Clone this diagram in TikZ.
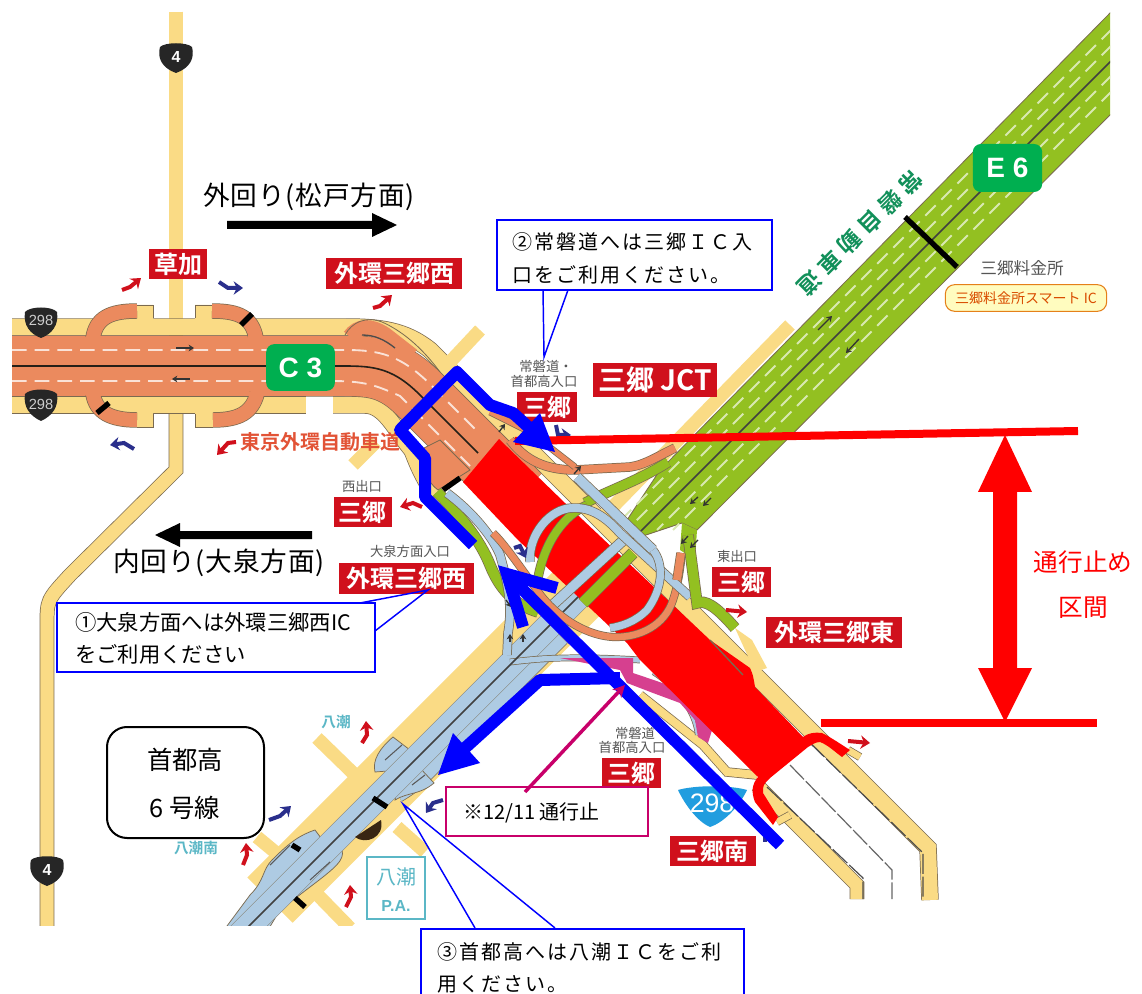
\documentclass[tikz,border=0pt]{standalone}
\usepackage{fontspec}
\usetikzlibrary{arrows.meta}
\newfontfamily\jp{Noto Sans CJK JP}
\newfontfamily\jpb{Noto Sans CJK JP Bold}
\newfontfamily\lib{Liberation Sans}
\definecolor{cOr}{HTML}{EB8A5E}
\definecolor{cYe}{HTML}{FADB85}
\definecolor{cLb}{HTML}{AECBE3}
\definecolor{cGr}{HTML}{93C021}
\definecolor{cEd}{HTML}{7A6A50}
\definecolor{cBadge}{HTML}{00AF50}
\definecolor{cLab}{HTML}{D0101C}
\definecolor{cMag}{HTML}{C8006A}
\definecolor{cCy}{HTML}{5BB7C6}
\definecolor{cNavy}{HTML}{2A2F8C}
\definecolor{cRed}{HTML}{FF0000}
\definecolor{cBl}{HTML}{0000FF}
\definecolor{cGy}{HTML}{555555}
\definecolor{cTeal}{HTML}{12905A}
\newcommand{\fsz}[1]{\fontsize{#1}{#1}\selectfont}
\tikzset{
 rd/.style n args={2}{draw=cEd,line width=.55pt,double=#1,double distance=#2,line cap=butt},
 redlab/.style={fill=cLab,text=white,inner sep=0pt,font=\jpb\fsz{18},anchor=north west},
 smalltx/.style={text=cGy,inner sep=0pt,font=\jp\fsz{10}},
 note/.style={inner sep=0pt,anchor=west,font=\jp\fsz{15}},
 badge/.style={fill=cBadge,rounded corners=6pt,text=white,inner sep=0pt,font=\lib\bfseries\fsz{21}},
 blueline/.style={draw=cBl,line width=9pt,line join=round},
 sarrR/.style={draw=cLab,line width=3pt,-{Stealth[length=7pt,width=10pt]}},
 sarrN/.style={draw=cNavy,line width=3pt,-{Stealth[length=7pt,width=10pt]}},
 tiny/.style={draw=black!80,line width=1pt,-{Stealth[length=4pt,width=5pt]}},
 dashW/.style={draw=#1,line width=1.4pt,dash pattern=on 11pt off 6pt},
 shield/.style={fill=#1},
 callout/.style={draw=cBl,line width=1.1pt},
}
\begin{document}
\begin{tikzpicture}[x=0.75pt,y=-0.75pt]
\useasboundingbox (0,0) rectangle (1142,994);
\fill[white] (0,0) rectangle (1142,994);
\begin{scope}
\clip (12,12) rectangle (1110,925);
% yellow base roads
\draw[rd={cYe}{10pt}] (176,12) -- (176,340);
\draw[rd={cYe}{10pt}] (176,390) -- (176,470) -- (70,575) .. controls (47,600) .. (47,625) -- (47,930);
\draw[rd={cYe}{12pt}] (12,327) -- (345,327) .. controls (380,327) and (405,330) .. (430,350) -- (810,730) -- (928,848) -- (930,900);
\draw[rd={cYe}{12pt}] (12,405) -- (306,405);
\draw[rd={cYe}{12pt}] (333,405) -- (365,405) .. controls (385,405) and (395,430) .. (412,450) .. controls (420,470) .. (435,497);
\draw[rd={cYe}{6pt}] (640,695) -- (703,745) -- (727,772) -- (757,775);
\draw[rd={cYe}{10pt}] (757,785) -- (857,885) -- (857,899);
\draw[rd={cYe}{5pt}] (848,750) -- (860,757);
\draw[rd={cYe}{5pt}] (777,822) -- (790,815);
\fill[cYe] (137,305) rectangle (153,320) (195,305) rectangle (212,320) (137,412) rectangle (153,428) (195,412) rectangle (213,428);
\draw[cEd,line width=.6pt] (137,305)--(153,305)--(153,318) (195,318)--(195,305)--(212,305) (137,427)--(153,427)--(153,414) (195,414)--(195,427)--(213,427);
\fill[cYe] (735,628) -- (752,640) -- (767,668) -- (755,672) -- cycle;
% yellow stubs and 6 line bed
\draw[cYe,line width=10pt] (480,330) -- (450,362);
\draw[cYe,line width=10pt] (376,442) -- (353,465);
\draw[cYe,line width=10pt] (790,325) -- (600,520);
\draw[cYe,line width=48pt] (600,570) -- (270,900);
\draw[cYe,line width=10pt] (317,738) -- (355,775);
\draw[cYe,line width=10pt] (257,837) -- (292,866);
\draw[cYe,line width=10pt] (397,827) -- (425,852);
\draw[cYe,line width=10pt] (310,887) -- (350,928);
% dashed roads
\draw[black!70,line width=.9pt,dash pattern=on 15pt off 2pt] (810,743) -- (923,853) -- (923,899);
\draw[black!60,line width=.9pt,dash pattern=on 15pt off 2pt] (790,765) -- (892,870) -- (892,899);
\draw[black!70,line width=.9pt,dash pattern=on 15pt off 2pt] (767,787) -- (863,878) -- (863,899);
% C3 main
\draw[cEd,line width=46pt] (12,366) -- (335,366) .. controls (370,366) and (390,365) .. (420,395) -- (520,495);
\draw[cOr,line width=45pt] (12,366) -- (335,366) .. controls (370,366) and (390,365) .. (420,395) -- (520,495);
\fill[cOr,draw=cEd,line width=.6pt] (420,450) .. controls (425,470) and (425,480) .. (438,490) -- (470,470) -- (440,440) -- cycle;
\draw[cOr,line width=12pt] (350,337) .. controls (358,326) and (370,325) .. (385,335) -- (412,356);
\draw[cEd,line width=.6pt] (345,335) .. controls (352,322) and (366,316) .. (382,322) .. controls (400,330) and (420,345) .. (440,372);
\draw[black!70,line width=1pt] (362,335) .. controls (375,335) and (385,340) .. (395,348);
\draw[dashW={white!75!cOr}] (12,350) -- (345,350) .. controls (380,350) and (400,355) .. (430,384) -- (480,434);
\draw[dashW={white!75!cOr}] (12,381) -- (330,381) .. controls (365,381) and (375,385) .. (400,396) -- (470,466);
\draw[black!70!cEd,line width=1.2pt] (12,366) -- (335,366) .. controls (370,366) and (390,365) .. (420,395) -- (478,453);
% interchange loops
\draw[rd={cOr}{10.5pt}] (93,338) .. controls (96,318) and (110,311) .. (137,311);
\draw[rd={cOr}{10.5pt}] (256,338) .. controls (252,318) and (240,311) .. (212,311);
\draw[rd={cOr}{10.5pt}] (93,394) .. controls (96,412) and (110,420) .. (137,420);
\draw[rd={cOr}{10.5pt}] (257,394) .. controls (252,412) and (240,420) .. (213,420);
\fill[cOr] (86,336) rectangle (102,340) (248,336) rectangle (266,340) (86,392) rectangle (102,396) (248,392) rectangle (268,396);
\draw[black,line width=4pt] (241,325) -- (252,314);
\draw[black,line width=4pt] (97,413) -- (109,403);
\draw[black,line width=4pt] (443,490) -- (460,478);
% E6 green
\fill[cGr,draw=cEd,line width=.6pt] (1112,11) -- (660,470) -- (627,520) -- (640,537) -- (682,523) -- (697,530) -- (1112,113) -- cycle;
\draw[rd={cGr}{7pt}] (585,503) .. controls (610,490) and (640,480) .. (668,462);
\foreach \s in {1141,1157,1187,1203}{
 \draw[dashW={white!65!cGr}] (1112,\s-1112) -- (\s-530,530);
}
\draw[black!75,line width=1.2pt] (1112,60) -- (633,539);
\draw[black,line width=4pt] (905,217) -- (957,267);
% orange upper ramps
\draw[rd={cOr}{6pt}] (510,440) .. controls (525,460) and (545,470) .. (575,470) -- (630,467) .. controls (645,465) and (660,455) .. (675,448);
\draw[rd={cOr}{4pt}] (490,412) -- (530,432) -- (575,467);
% light blue under road
\draw[rd={cLb}{7pt}] (577,477) -- (653,550);
% 6 line main band
\draw[rd={cLb}{10.5pt}] (562,638) -- (432,768) .. controls (425,775) and (415,785) .. (398,795);
\fill[cLb,draw=cEd,line width=.55pt] (434,783) .. controls (420,795) and (408,792) .. (395,800) -- (400,775) -- (420,768) -- cycle;
\fill[cLb,draw=cEd,line width=.55pt] (393,737) .. controls (380,748) and (372,760) .. (375,772) -- (400,770) -- (410,750) -- cycle;
\fill[cLb,draw=cEd,line width=.55pt] (315,830) .. controls (300,835) and (290,842) .. (272,860) .. controls (262,870) and (265,880) .. (250,895) -- (224,930) -- (260,930) -- (330,850) -- cycle;
\fill[cLb,draw=cEd,line width=.55pt] (342,850) .. controls (345,860) and (335,868) .. (310,887) -- (280,910) -- (268,930) -- (245,930) -- (320,840) -- cycle;
\draw[draw=cEd,line width=19.6pt] (587,588) -- (235,940);
\draw[cLb,line width=19pt] (587,588) -- (235,940);
\draw[rd={cLb}{4pt}] (510,662) .. controls (530,660) and (560,655) .. (640,660);
\draw[rd={cLb}{2pt}] (653,673) .. controls (680,690) and (695,715) .. (697,735);
% dark lines of 6 line
\draw[black!75,line width=1.1pt] (587,588) -- (235,940);
\draw[black!65,line width=.8pt] (385,760) -- (402,745);
\draw[black!65,line width=.8pt] (412,785) -- (425,775);
\draw[black!65,line width=.8pt] (290,845) -- (270,865);
\draw[black!65,line width=.8pt] (330,862) -- (310,880);
\draw[black,line width=4pt] (373,798) -- (387,807);
\draw[black,line width=4pt] (292,845) -- (300,850);
\draw[black,line width=4pt] (295,898) -- (305,907);
\fill[black!70!brown] (355,837) .. controls (365,845) and (385,838) .. (381,820) -- cycle;
% pink area
\fill[cMag!75!white] (560,658) -- (633,658) -- (633,673) -- (683,690) -- (713,727) -- (708,743) -- (698,737) -- (695,720) -- (680,703) -- (653,693) -- (627,683) -- (620,670) -- cycle;
% green/blue west ramps
\draw[rd={cGr}{7.5pt}] (437,492) .. controls (460,515) and (480,540) .. (490,565) .. controls (500,590) and (515,605) .. (538,612);
\draw[rd={cLb}{6pt}] (447,493) .. controls (470,510) and (492,535) .. (500,555) .. controls (510,590) and (512,610) .. (508,633) -- (507,655);
% RED closed section
\fill[cRed] (499,439) -- (565,503) -- (710,640) -- (750,668) .. controls (753,675) .. (755,687) -- (803,737) .. controls (808,733) and (815,732) .. (822,733) .. controls (832,738) and (842,745) .. (850,750) -- (842,757) .. controls (835,752) and (828,745) .. (820,742) .. controls (815,742) and (812,745) .. (808,747) -- (770,778) .. controls (763,785) .. (763,793) -- (778,817) -- (773,825) -- (755,802) .. controls (751,792) and (752,784) .. (758,777) -- (640,660) -- (627,643) -- (518,540) -- (463,482) -- cycle;
\draw[cEd,line width=1pt] (710,640) -- (743,675);
% overpass ramps over red
\draw[rd={cLb}{7pt}] (628,536) -- (545,612);
\draw[rd={cGr}{8pt}] (633,553) -- (583,603);
\draw[rd={cGr}{6pt}] (587,505) .. controls (565,515) and (545,540) .. (538,578);
\draw[rd={cOr}{5pt}] (493,533) .. controls (505,545) and (515,560) .. (537,590) .. controls (550,610) and (580,635) .. (613,637) .. controls (640,638) and (665,625) .. (673,600) .. controls (678,585) and (680,570) .. (682,553);
\draw[rd={cLb}{6pt}] (530,562) .. controls (528,535) and (550,508) .. (573,508) .. controls (595,507) and (610,522) .. (620,533) -- (690,597);
\draw[rd={cLb}{5.5pt}] (653,550) .. controls (665,565) and (662,590) .. (647,610) .. controls (635,622) and (622,626) .. (610,628);
% east green ramp
\fill[cGr] (682,523) -- (697,530) -- (695,560) -- (680,550) -- cycle;
\draw[rd={cGr}{7.5pt}] (688,535) -- (697,603) .. controls (705,600) and (715,605) .. (735,628);
\draw[rd={cOr}{6pt}] (681,553) -- (677,580);
% tiny arrows
\draw[tiny] (176,348) -- (194,348);
\draw[tiny] (190,379) -- (172,379);
\draw[tiny] (818,330) -- (832,316);
\draw[tiny] (859,339) -- (846,353);
\draw[tiny] (698,497) -- (690,504);
\draw[tiny] (711,498) -- (703,506);
\draw[tiny] (688,536) -- (681,544);
\draw[tiny] (698,540) -- (690,548);
\draw[tiny] (499,432) -- (505,424);
\draw[tiny] (574,474) -- (581,466);
\draw[tiny] (506,600) -- (511,607);
\draw[tiny] (510,642) -- (510,634);
\draw[tiny] (523,642) -- (523,634);
\end{scope}
% coloured small arrows
\draw[sarrR] (122,290) -- (130,287) -- (141,278);
\draw[sarrN] (219,282) -- (228,288) -- (243,288);
\draw[sarrR] (373,308) -- (380,306) -- (392,295);
\draw[sarrN] (134,449) -- (124,443) -- (110,445);
\draw[sarrR] (236,442) -- (228,443) -- (217,455);
\draw[sarrR] (422,507) -- (413,503) -- (400,507);
\draw[sarrR] (726,610) -- (747,612);
\draw[sarrR] (848,741) -- (870,743);
\draw[sarrN] (556,425) -- (558,435) -- (571,435);
\draw[sarrN] (514,548) -- (520,546) -- (526,558);
\draw[sarrR] (362,743) -- (367,735) -- (366,721);
\draw[sarrN] (269,820) -- (280,816) -- (291,806);
\draw[sarrR] (243,865) -- (247,855) -- (246,843);
\draw[sarrR] (346,907) -- (351,897) -- (350,885);
\draw[sarrN] (443,800) -- (433,803) -- (426,813);
\draw[cNavy,line width=3pt] (765,828) -- (765,842);
% shields
\fill[shield=black!85] (160,47) .. controls (165,42) and (187,42) .. (192,47) .. controls (195,58) and (190,68) .. (176,73) .. controls (162,68) and (157,58) .. (160,47) -- cycle;
\node[text=white,font=\lib\bfseries\fsz{12},inner sep=0pt] (s4a) at (176,57) {4};
\fill[shield=black!85] (31,860) .. controls (36,855) and (58,855) .. (63,860) .. controls (66,871) and (61,881) .. (47,886) .. controls (33,881) and (28,871) .. (31,860) -- cycle;
\node[text=white,font=\lib\bfseries\fsz{12},inner sep=0pt] (s4b) at (47,870) {4};
\fill[shield=black!85] (25,312) .. controls (30,306) and (52,306) .. (57,312) .. controls (59,325) and (52,334) .. (41,338) .. controls (30,334) and (23,325) .. (25,312) -- cycle;
\node[text=white!80!black,font=\lib\fsz{11},inner sep=0pt] (s298a) at (41,320) {298};
\fill[shield=black!85] (25,394) .. controls (30,388) and (52,388) .. (57,394) .. controls (59,407) and (52,416) .. (41,421) .. controls (30,416) and (23,407) .. (25,394) -- cycle;
\node[text=white!80!black,font=\lib\fsz{11},inner sep=0pt] (s298b) at (41,404) {298};
\fill[cyan!80!blue!90!white] (678,790) .. controls (695,785) and (730,785) .. (747,790) .. controls (740,805) and (725,822) .. (710,827) .. controls (698,822) and (685,805) .. (678,790) -- cycle;
\node[text=white,font=\lib\fsz{20},inner sep=0pt] (s298c) at (712,803) {298};
% red labels
\node[redlab,minimum width=43.5pt,minimum height=22.5pt] (lkusa) at (149,249) {草加};
\node[redlab,minimum width=102pt,minimum height=23pt] (lgw1) at (326,258) {外環三郷西};
\node[redlab,minimum width=93pt,minimum height=25pt,font=\jpb\fsz{21}] (ljct) at (593,363) {三郷 JCT};
\node[redlab,minimum width=45pt,minimum height=22.5pt] (lm1) at (517,392) {三郷};
\node[redlab,minimum width=43pt,minimum height=22pt] (lm2) at (334,497) {三郷};
\node[redlab,minimum width=101pt,minimum height=23pt] (lgw2) at (339,563) {外環三郷西};
\node[redlab,minimum width=44pt,minimum height=22.5pt] (lm3) at (712,567) {三郷};
\node[redlab,minimum width=102pt,minimum height=23pt] (lge) at (766,617) {外環三郷東};
\node[redlab,minimum width=44pt,minimum height=22.5pt] (lm4) at (602,758) {三郷};
\node[redlab,minimum width=64pt,minimum height=22.5pt] (lms) at (670,836) {三郷南};
% small grey text
\node[smalltx] (t1a) at (546,366) {常磐道・};
\node[smalltx] (t1b) at (544,381) {首都高入口};
\node[smalltx] (t2) at (362,486) {西出口};
\node[smalltx] (t3) at (410,551) {大泉方面入口};
\node[smalltx] (t4) at (737,556) {東出口};
\node[smalltx] (t5a) at (635,733) {常磐道};
\node[smalltx] (t5b) at (632,747) {首都高入口};
\node[smalltx,font=\jp\fsz{12.5}] (t6) at (1022,268) {三郷料金所};
\node[draw=orange!60!brown,line width=.8pt,fill=yellow!25!white,rounded corners=7pt,minimum width=121pt,minimum height=20pt,inner sep=0pt,text=orange!70!red!85!black,font=\jp\fsz{10.5}] (tsm) at (1026,298) {三郷料金所スマート IC};
\node[text=red!50!brown!90!white,font=\jpb\fsz{15},inner sep=0pt,anchor=west] (ttg) at (240,442) {東京外環自動車道};
\node[rotate=-135,text=cTeal,inner sep=0pt,font=\jpb\fsz{17}] (tjb) at (860,233) {\addfontfeature{LetterSpace=25}常磐自動車道};
\node[text=cCy,font=\jpb\fsz{11},inner sep=0pt] (ty1) at (336,722) {八潮};
\node[text=cCy,font=\jpb\fsz{11},inner sep=0pt] (ty2) at (196,848) {八潮南};
\node[draw=cCy,line width=.9pt,minimum width=43.5pt,minimum height=46.5pt,inner sep=0pt] (pa) at (396,888) {};
\node[text=cCy,font=\jp\fsz{15},inner sep=0pt] (pa1) at (396,877) {八潮};
\node[text=cCy,font=\lib\bfseries\fsz{12},inner sep=0pt] (pa2) at (396,906) {P.A.};
% badges
\node[badge,minimum width=51.5pt,minimum height=35pt] (c3) at (300.5,367.5) {C 3};
\node[badge,minimum width=52pt,minimum height=36pt] (e6) at (1007.5,168) {E 6};
% blue route arrows
\draw[blueline] (473,545) -- (425,497) -- (425,458) -- (400,430) -- (457,372) -- (490,405) -- (513,413) -- (535,433);
\draw[cRed,line width=6pt] (515,441) -- (1078,431);
\fill[cBl] (513,442) -- (540,413) -- (555,452) -- cycle;
\draw[cRed,line width=6pt] (821,723) -- (1097,723);
\draw[cBl,line width=9pt] (780,845) -- (508,575);
\draw[cBl,line width=9pt,line join=miter,miter limit=10] (557,588) -- (507,574) -- (523,627);
\draw[blueline] (620,678) -- (540,680) -- (465,748);
\fill[cBl] (438,775) -- (453,733) -- (480,763) -- cycle;
% double arrow
\fill[cRed] (1005,435) -- (1032,492) -- (1017,492) -- (1017,668) -- (1032,668) -- (1005,722) -- (978,668) -- (993,668) -- (993,492) -- (978,492) -- cycle;
\node[text=cRed,font=\jp\fsz{18.5},inner sep=0pt] (tstop1) at (1083,562) {通行止め};
\node[text=cRed,font=\jp\fsz{18.5},inner sep=0pt] (tstop2) at (1083,608) {区間};
% direction arrows
\node[font=\jp\fsz{20},inner sep=0pt] (tout) at (309,197) {\addfontfeature{LetterSpace=3}外回り(松戸方面)};
\fill[black] (227,221) -- (372,221) -- (372,213) -- (397,225) -- (372,237) -- (372,229) -- (227,229) -- cycle;
\node[font=\jp\fsz{20},inner sep=0pt] (tin) at (219,563) {\addfontfeature{LetterSpace=3}内回り(大泉方面)};
\fill[black] (312,531) -- (180,531) -- (180,523) -- (155,535) -- (180,547) -- (180,539) -- (312,539) -- cycle;
% callouts
\draw[callout,fill=white] (497,220) rectangle (772,290);
\draw[callout] (543,290) -- (544,357) -- (568,290);
\node[note] (n2a) at (512,242) {\addfontfeature{LetterSpace=10}②常磐道へは三郷ＩＣ入};
\node[note] (n2b) at (512,275) {\addfontfeature{LetterSpace=10}口をご利用ください。};
\draw[callout,fill=white] (57,603) rectangle (375,672);
\draw[callout] (360,603) -- (428,590) -- (375,631);
\node[note,font=\jp\fsz{16}] (n1a) at (75,622) {①大泉方面へは外環三郷西IC};
\node[note,font=\jp\fsz{16}] (n1b) at (75,654) {をご利用ください};
\draw[callout,fill=white] (421,994) -- (421,929) -- (744,929) -- (744,994);
\draw[callout] (475,928) -- (403,804) -- (555,928);
\node[note] (n3a) at (437,952) {\addfontfeature{LetterSpace=10}③首都高へは八潮ＩＣをご利};
\node[note] (n3b) at (437,984) {\addfontfeature{LetterSpace=10}用ください。};
\draw[cMag,line width=1.4pt,fill=white] (446,787) rectangle (648,836);
\draw[cMag,line width=2.6pt,-{Stealth[length=9pt,width=9pt]}] (525,792) -- (625,685);
\node[note] (n4) at (463,813) {※12/11 通行止};
\draw[black,line width=1.5pt,fill=white,rounded corners=15pt] (107,727) rectangle (264,838);
\node[font=\jp\fsz{19},inner sep=0pt] (nsh1) at (185,760) {首都高};
\node[font=\jp\fsz{19},inner sep=0pt] (nsh2) at (185,808) {6 号線};
\end{tikzpicture}
\end{document}
